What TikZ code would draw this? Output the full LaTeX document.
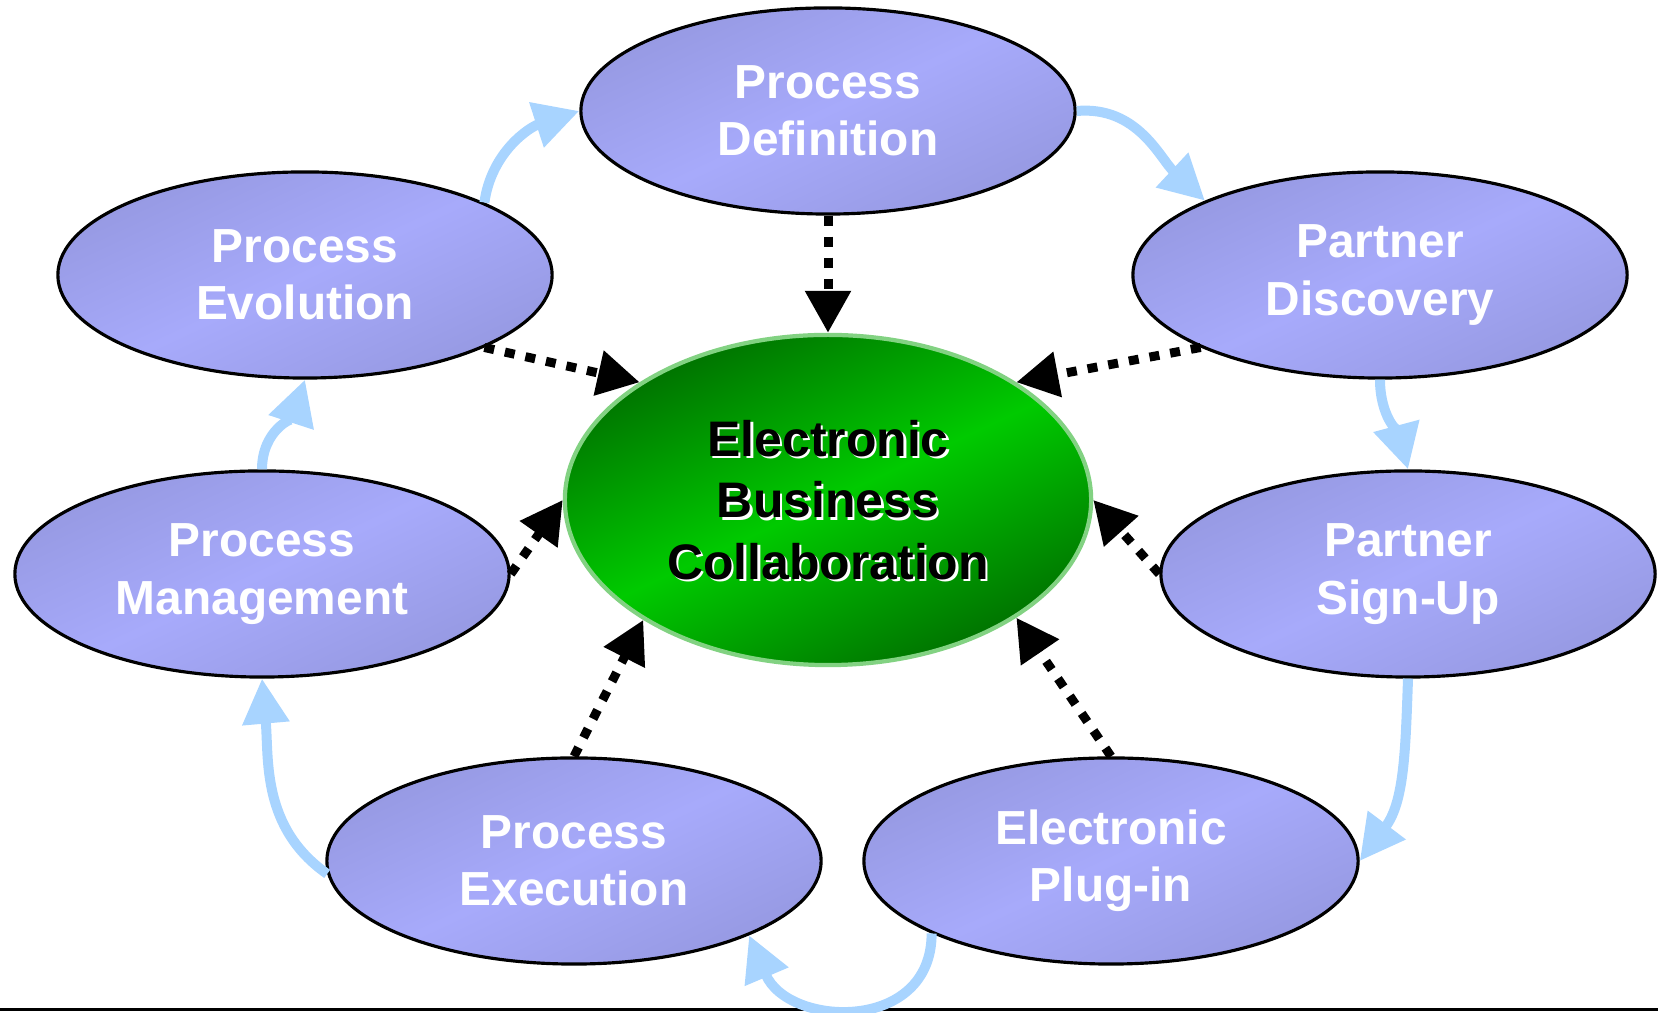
\documentclass[tikz,border=0pt]{standalone}
\usepackage{fontspec}
\setmainfont{Liberation Sans}
\usetikzlibrary{arrows.meta,shapes.geometric,positioning}

\definecolor{lavdark}{RGB}{150,153,226}
\definecolor{lavlight}{RGB}{167,170,251}
\definecolor{greendark}{RGB}{0,112,0}
\definecolor{greenlight}{RGB}{0,202,0}
\definecolor{greenrim}{RGB}{130,210,130}
\definecolor{flowblue}{RGB}{168,212,255}

\begin{document}
\begin{tikzpicture}[x=0.01cm,y=0.01cm,
    phase/.style={ellipse,draw=black,line width=0.9pt,minimum width=4.94cm,minimum height=2.06cm,inner sep=0pt,
      top color=lavdark,bottom color=lavdark,middle color=lavlight,shading angle=25,
      text=white,font=\fontsize{13.6}{16.3}\selectfont\bfseries,align=center},
    hub/.style={ellipse,draw=greenrim,line width=1.2pt,minimum width=5.26cm,minimum height=3.3cm,inner sep=0pt,
      top color=greendark,bottom color=greendark,middle color=greenlight,shading angle=25},
    hubfont/.style={font=\fontsize{14.2}{17.5}\selectfont\bfseries,align=center},
    flow/.style={draw=flowblue,line width=0.1cm,-{Triangle[length=0.45cm,width=0.45cm]}},
    feed/.style={draw=black,line width=0.09cm,dash pattern=on 0.1cm off 0.11cm,-{Triangle[length=0.42cm,width=0.44cm]}}]
    \useasboundingbox (0,0) rectangle (1658,1013);
    \draw[line width=0.03cm] (0,3) -- (1658,3);

    % the seven phases round the hub
    \node[phase] (def) at (828,902) {Process\\Definition};
    \node[phase] (disc) at (1380,738) {Partner\\Discovery};
    \node[phase] (signup) at (1408,439) {Partner\\Sign-Up};
    \node[phase] (plug) at (1111,152) {Electronic\\Plug-in};
    \node[phase] (exec) at (574,152) {Process\\Execution};
    \node[phase] (mgmt) at (262,439) {Process\\Management};
    \node[phase] (evol) at (305,738) {Process\\Evolution};

    \node[hub] (hub) at (828,513) {};
    \node[hubfont,text=white] (shade) at ([shift={(2.5,-2.5)}]hub.center) {Electronic\\Business\\Collaboration};
    \node[hubfont,text=black] (hubtext) at (hub.center) {Electronic\\Business\\Collaboration};

    % cycle
    \draw[flow] (evol.22) to[out=82,in=198] (def.west);
    \draw[flow] (def.east) to[out=5,in=137] (disc.157);
    \draw[flow] (disc.south) to[out=-90,in=105] (signup.north);
    \draw[flow] (signup.south) to[out=-92,in=53] (plug.east);
    \draw[flow] (plug.202) to[out=-90,in=-67,looseness=1.4] (exec.-23);
    \draw[flow] (exec.183) to[out=145,in=-85] (mgmt.south);
    \draw[flow] (mgmt.north) to[out=90,in=-108] (evol.south);

    % into the hub
    \draw[feed] (def.south) -- (hub.north);
    \draw[feed] (disc.202) -- (hub.32);
    \draw[feed] (signup.west) -- (hub.east);
    \draw[feed] (plug.north) -- (hub.-32);
    \draw[feed] (exec.north) -- (hub.213);
    \draw[feed] (mgmt.east) -- (hub.west);
    \draw[feed] (evol.-22) -- (hub.148);
\end{tikzpicture}
\end{document}
